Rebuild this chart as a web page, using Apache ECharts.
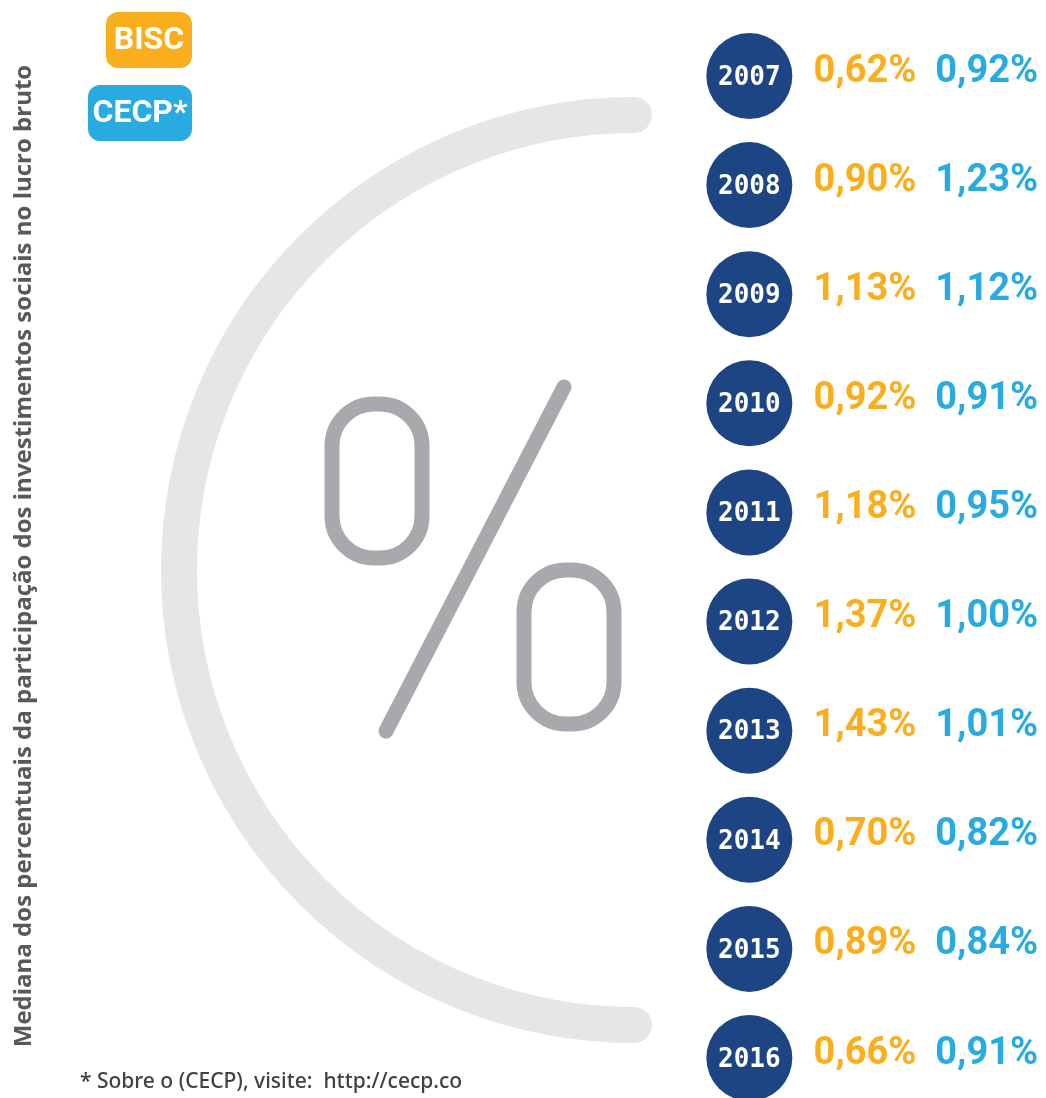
<!DOCTYPE html>
<html>
<head>
<meta charset="utf-8">
<script src="https://cdn.jsdelivr.net/npm/echarts@6/dist/echarts.min.js"></script>
<style>
  html, body { margin: 0; padding: 0; background: #fff; }
  #chart { width: 1046px; height: 1098px; }
</style>
</head>
<body>
<div id="chart"></div>
<script>
// dados
var anos = ['2007', '2008', '2009', '2010', '2011', '2012', '2013', '2014', '2015', '2016'];
var bisc = [0.62, 0.90, 1.13, 0.92, 1.18, 1.37, 1.43, 0.70, 0.89, 0.66];
var cecp = [0.92, 1.23, 1.12, 0.91, 0.95, 1.00, 1.01, 0.82, 0.84, 0.91];
var colunas = ['Ano', 'BISC', 'CECP*'];

var corBisc = '#fbae1d';
var corCecp = '#29abe2';
var corAno = '#1d4584';
var cinza = '#a7a9ac';

function fmt(v) {
  return v.toFixed(2).replace('.', ',') + '%';
}

var myChart = echarts.init(document.getElementById('chart'));

var option = {
  animation: false,
  grid: { left: 690, right: -4, top: 76, bottom: 40 },
  xAxis: {
    type: 'category',
    data: colunas,
    show: false
  },
  yAxis: {
    type: 'category',
    data: anos,
    inverse: true,
    boundaryGap: false,
    show: false
  },
  graphic: [
    // arco cinza
    {
      type: 'arc',
      shape: { cx: 634, cy: 570, r: 455, startAngle: Math.PI / 2, endAngle: Math.PI * 1.5, clockwise: true },
      style: { stroke: '#e6e6e6', lineWidth: 36, lineCap: 'round', fill: null },
      z: 0
    },
    // simbolo %
    {
      type: 'rect',
      shape: { x: 332, y: 404, width: 90, height: 154, r: [42, 42, 42, 42] },
      style: { stroke: cinza, lineWidth: 15, fill: null }
    },
    {
      type: 'rect',
      shape: { x: 524, y: 570, width: 90, height: 154, r: [42, 42, 42, 42] },
      style: { stroke: cinza, lineWidth: 15, fill: null }
    },
    {
      type: 'line',
      shape: { x1: 564, y1: 387, x2: 386, y2: 731 },
      style: { stroke: cinza, lineWidth: 15, lineCap: 'round' }
    },
    // legenda
    {
      type: 'rect',
      shape: { x: 106, y: 12, width: 86, height: 56, r: 12 },
      style: { fill: corBisc }
    },
    {
      type: 'text',
      x: 149, y: 41,
      style: { text: 'BISC', fill: '#fff', font: 'bold 32px "Roboto"', align: 'center', verticalAlign: 'middle' }
    },
    {
      type: 'rect',
      shape: { x: 88, y: 85, width: 104, height: 56, r: 12 },
      style: { fill: corCecp }
    },
    {
      type: 'text',
      x: 140, y: 114,
      style: { text: 'CECP*', fill: '#fff', font: 'bold 32px "Roboto"', align: 'center', verticalAlign: 'middle' }
    },
    // titulo vertical
    {
      type: 'text',
      x: 24, y: 556,
      rotation: Math.PI / 2,
      style: {
        text: 'Mediana dos percentuais da participação dos investimentos sociais no lucro bruto',
        fill: '#58595b', font: 'bold 24px "Open Sans"', align: 'center', verticalAlign: 'middle'
      }
    },
    // nota
    {
      type: 'text',
      x: 80, y: 1082,
      style: {
        text: '* Sobre o (CECP), visite:  http://cecp.co',
        fill: '#414042', font: '500 21px "Noto Sans"', align: 'left', verticalAlign: 'middle'
      }
    }
  ],
  series: [
    {
      name: 'Ano',
      type: 'scatter',
      clip: false,
      symbol: 'circle',
      symbolSize: 86,
      itemStyle: { color: corAno, opacity: 1 },
      label: {
        show: true,
        position: 'inside',
        color: '#fff',
        fontFamily: 'DejaVu Sans Mono',
        fontWeight: 'bold',
        fontSize: 26,
        offset: [0, 2],
        formatter: function (p) { return anos[p.dataIndex]; }
      },
      data: anos.map(function (a, i) { return ['Ano', i]; })
    },
    {
      name: 'BISC',
      type: 'scatter',
      clip: false,
      symbolSize: 1,
      itemStyle: { color: 'rgba(255,255,255,0)', opacity: 1 },
      label: {
        show: true,
        position: 'inside',
        color: corBisc,
        fontFamily: 'Roboto',
        fontWeight: 'bold',
        fontSize: 38,
        offset: [-3, -4],
        formatter: function (p) { return fmt(bisc[p.dataIndex]); }
      },
      data: bisc.map(function (v, i) { return ['BISC', i]; })
    },
    {
      name: 'CECP*',
      type: 'scatter',
      clip: false,
      symbolSize: 1,
      itemStyle: { color: 'rgba(255,255,255,0)', opacity: 1 },
      label: {
        show: true,
        position: 'inside',
        color: corCecp,
        fontFamily: 'Roboto',
        fontWeight: 'bold',
        fontSize: 38,
        offset: [0, -4],
        formatter: function (p) { return fmt(cecp[p.dataIndex]); }
      },
      data: cecp.map(function (v, i) { return ['CECP*', i]; })
    }
  ]
};

myChart.setOption(option);
</script>
</body>
</html>
